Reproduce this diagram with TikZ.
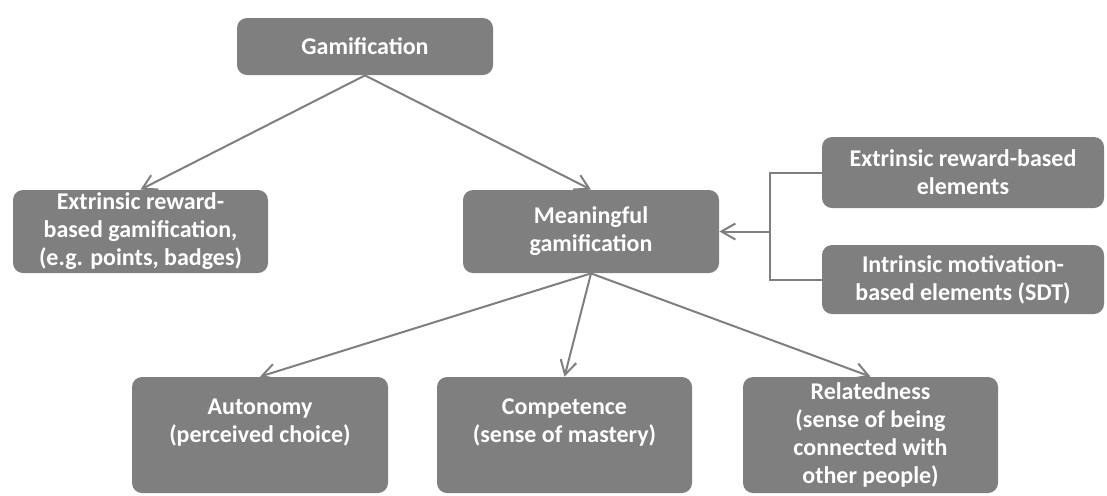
\documentclass[tikz,border=0pt]{standalone}
\usepackage{fontspec}
\setmainfont{Carlito}
\usetikzlibrary{arrows.meta,positioning}
\definecolor{BoxGray}{RGB}{127,127,127}

\begin{document}
\begin{tikzpicture}[x=0.5pt, y=-0.5pt, font=\bfseries\fontsize{12}{14}\selectfont]
          \tikzset{
            b/.style={rounded corners=5pt, fill=BoxGray, text=white, align=center, inner xsep=2pt, inner ysep=0pt},
            arr/.style={-{Straight Barb[length=7pt,width=8pt]}, line width=1pt, draw=BoxGray},
            ln/.style={line width=1pt, draw=BoxGray}
          }
          \useasboundingbox (0,0) rectangle (1107,495);
          % top
          \node[b, minimum width=128pt, minimum height=28.5pt] (gam) at (365,46.5) {Gamification};
          \node[b, minimum width=127.5pt, minimum height=41.5pt] (ext) at (140.5,231.5) {Extrinsic reward-\\based gamification,\\(e.g. points, badges)};
          \node[b, minimum width=128pt, minimum height=41.5pt] (mean) at (591,231.5) {Meaningful\\gamification};
          % elements on the right
          \node[b, minimum width=141pt, minimum height=35.5pt] (extel) at (963,172.5) {Extrinsic reward-based\\elements};
          \node[b, minimum width=141pt, minimum height=34.5pt] (intel) at (963,279.5) {Intrinsic motivation-\\based elements (SDT)};
          % SDT needs
          \node[b, minimum width=128pt, minimum height=58pt] (auto) at (260,435) {Autonomy\\(perceived choice)\\\mbox{}};
          \node[b, minimum width=127.5pt, minimum height=58pt] (comp) at (564.5,435) {Competence\\(sense of mastery)\\\mbox{}};
          \node[b, minimum width=127.5pt, minimum height=58pt] (relat) at (870.5,435) {Relatedness\\(sense of being\\connected with\\other people)};
          \coordinate (brk) at (770,231.5);
          \draw[arr] (gam.south) -- (ext.north);
          \draw[arr] (gam.south) -- (mean.north);
          \draw[ln] (extel.west) -| (brk) |- (intel.west);
          \draw[arr] (brk) -- (mean.east);
          \draw[arr] (mean.south) -- (auto.north);
          \draw[arr] (mean.south) -- (comp.north);
          \draw[arr] (mean.south) -- (relat.north);
        \end{tikzpicture}
\end{document}
